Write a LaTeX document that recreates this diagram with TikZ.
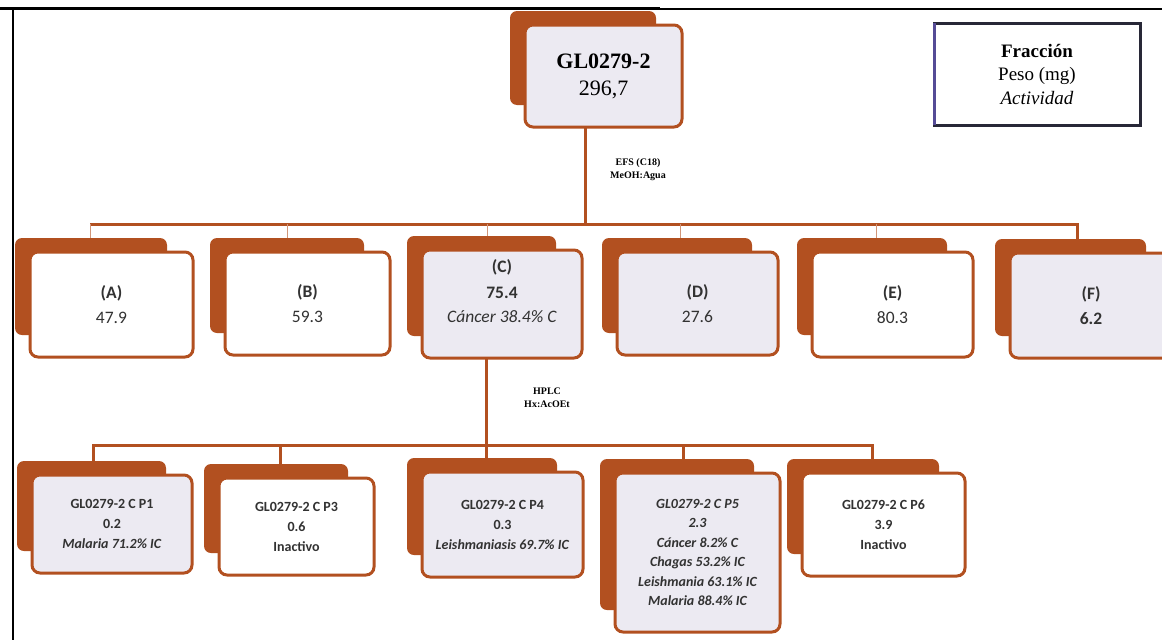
\documentclass[tikz,border=0pt]{standalone}
\usepackage{fontspec}
\setmainfont{Liberation Serif}
\newfontfamily\carl{Carlito}
\usetikzlibrary{calc}
\definecolor{rust}{RGB}{178,80,32}
\definecolor{lav}{RGB}{236,234,242}
\definecolor{navy}{RGB}{40,40,55}
\definecolor{violettwo}{RGB}{85,75,150}
\definecolor{txt}{RGB}{50,50,50}
\tikzset{
  conn/.style={draw=rust, line width=3pt},
  tickc/.style={draw=rust!60, line width=0.8pt},
  shadowbox/.style={fill=rust, rounded corners=7pt, inner sep=0pt, outer sep=0pt},
  frontbox/.style={draw=rust, line width=3pt, fill=white, rounded corners=8pt, inner sep=2pt, outer sep=0pt, align=center, text=txt},
  shadedbox/.style={fill=lav},
  plainbox/.style={fill=white},
  rowtwo/.style={font=\carl\fontsize{17.5}{25}\selectfont},
  rowthree/.style={font=\carl\bfseries\fontsize{14}{20}\selectfont},
  lbl/.style={font=\bfseries\fontsize{10}{13}\selectfont, align=center, inner sep=0pt},
  legendbox/.style={draw=navy, line width=3pt, fill=white, align=center, inner sep=0pt, outer sep=0pt,
     font=\fontsize{19}{23.5}\selectfont},
}
% #1 name, #2 shadow x, #3 shadow y, #4 front width, #5 front height, #6 styles, #7 text
\newcommand\fracnode[7]{%
  \node[shadowbox, minimum width=#4pt-11pt, minimum height=#5pt-8pt, anchor=north west] (#1s) at (#2,#3) {};%
  \node[frontbox, #6, minimum width=#4pt, minimum height=#5pt, anchor=north west] (#1) at ($(#1s.north west)+(15,14)$) {#7};%
}
\begin{document}
\begin{tikzpicture}[x=1pt, y=-1pt]
\useasboundingbox (0,0) rectangle (1162,640);
\clip (0,0) rectangle (1162,640);

% root
\fracnode{root}{510}{11}{157}{102}{shadedbox, font=\fontsize{22}{27}\selectfont, text=black}{\textbf{GL0279-2}\\296,7}

% legend
\node[legendbox, minimum width=206pt, minimum height=102pt] (leg) at (1037,74) {\textbf{Fracción}\\Peso (mg)\\\textit{Actividad}};
\draw[draw=violettwo, line width=3pt] (leg.north west) -- (leg.south west);

% row two
\fracnode{A}{15}{238}{163}{105}{plainbox, rowtwo}{\textbf{(A)}\\47.9}
\fracnode{B}{210}{238}{165}{103}{plainbox, rowtwo}{\textbf{(B)}\\59.3}
\fracnode{C}{407}{236}{160}{108}{shadedbox, rowtwo}{\textbf{(C)}\\\textbf{75.4}\\\textit{Cáncer 38.4\% C}\\\mbox{}}
\fracnode{D}{602}{238}{161}{103}{shadedbox, rowtwo}{\textbf{(D)}\\27.6}
\fracnode{E}{797}{238}{161}{105}{plainbox, rowtwo}{\textbf{(E)}\\80.3}
\fracnode{F}{995}{239}{162}{105}{shadedbox, rowtwo}{\textbf{(F)}\\\textbf{6.2}}

% row three
\fracnode{P1}{17}{461}{160}{98}{shadedbox, rowthree}{GL0279-2 C P1\\0.2\\\textit{Malaria 71.2\% IC}}
\fracnode{P3}{204}{464}{155}{97}{plainbox, rowthree}{GL0279-2 C P3\\0.6\\Inactivo}
\fracnode{P4}{407}{458}{161}{105}{shadedbox, rowthree}{GL0279-2 C P4\\0.3\\\textit{Leishmaniasis 69.7\% IC}}
\fracnode{P5}{600}{459}{165}{159}{shadedbox, rowthree, font=\carl\bfseries\itshape\fontsize{14}{19.5}\selectfont}{GL0279-2 C P5\\2.3\\Cáncer 8.2\% C\\Chagas 53.2\% IC\\Leishmania 63.1\% IC\\Malaria 88.4\% IC}
\fracnode{P6}{787}{459}{163}{103}{plainbox, rowthree}{GL0279-2 C P6\\3.9\\Inactivo}

% labels
\node[lbl] (efs) at (638,170) {EFS (C18)\\MeOH:Agua};
\node[lbl] (hplc) at (547,398) {HPLC\\Hx:AcOEt};

% connectors: root to row two
\coordinate (busL) at (90,224);
\coordinate (busR) at (1077,224);
\coordinate (rd) at (585,224);
\draw[conn] (rd |- root.south) -- (rd);
\draw[conn] (busL) -- (busR) -- (busR |- Fs.north);
\coordinate (dA) at (90,224);
\coordinate (dB) at (287,224);
\coordinate (dC) at (487,224);
\coordinate (dD) at (680,224);
\coordinate (dE) at (876,224);
\draw[tickc] (dA) -- (dA |- As.north);
\draw[tickc] (dB) -- (dB |- Bs.north);
\draw[tickc] (dC) -- (dC |- Cs.north);
\draw[tickc] (dD) -- (dD |- Ds.north);
\draw[tickc] (dE) -- (dE |- Es.north);

% connectors: C to row three
\coordinate (cd) at (486,445);
\coordinate (b2L) at (93,445);
\coordinate (b2R) at (872,445);
\draw[conn] (cd |- C.south) -- (cd);
\draw[conn] (b2L |- P1s.north) -- (b2L) -- (b2R) -- (b2R |- P6s.north);
\coordinate (d3) at (280,445);
\coordinate (d5) at (683,445);
\draw[conn] (d3) -- (d3 |- P3s.north);
\draw[conn] (cd) -- (cd |- P4s.north);
\draw[conn] (d5) -- (d5 |- P5s.north);

% frame
\draw[line width=3pt] (0,8) -- (660,8);
\draw[line width=2pt] (660,9) -- (1162,9);
\draw[line width=2.5pt] (13,8) -- (13,640);
\end{tikzpicture}
\end{document}
